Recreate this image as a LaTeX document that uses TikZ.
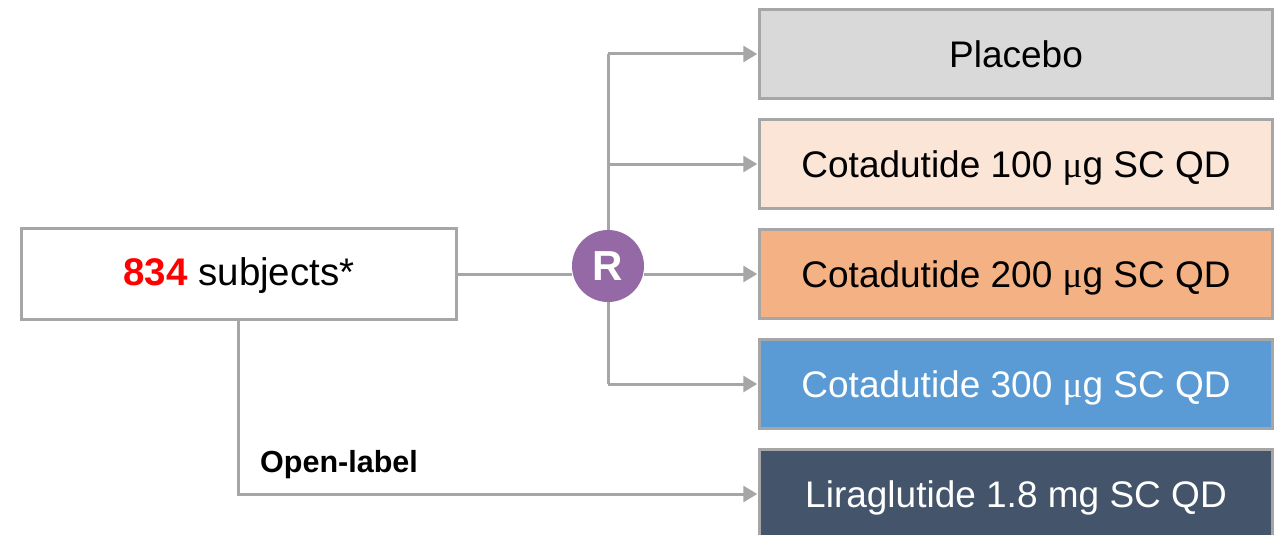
\documentclass[tikz,border=0pt]{standalone}
\usepackage{fontspec}
\setmainfont{Liberation Sans}
\newfontfamily\muserif{Liberation Serif}
\usetikzlibrary{arrows.meta}
\definecolor{lgray}{HTML}{A6A6A6}
\definecolor{cplacebo}{HTML}{D9D9D9}
\definecolor{cone}{HTML}{FBE5D6}
\definecolor{ctwo}{HTML}{F4B183}
\definecolor{cthree}{HTML}{5B9BD5}
\definecolor{clira}{HTML}{44546A}
\definecolor{cpurple}{HTML}{9469A5}
\newcommand{\mug}{{\muserif μ}g}
\tikzset{
  armbox/.style={draw=lgray, line width=2.5pt, minimum width=513pt, minimum height=89pt, inner sep=0pt, text height=26.5pt, text depth=0pt, font=\fontsize{37}{44}\selectfont},
  conn/.style={draw=lgray, line width=3pt},
  arr/.style={conn, -{Triangle[length=14pt,width=16pt]}, shorten >=1pt},
}
\begin{document}
\begin{tikzpicture}[x=1pt,y=-1pt]
\useasboundingbox (0,0) rectangle (1284,535);
\node[armbox, fill=cplacebo] (pl) at (1016,54) {Placebo};
\node[armbox, fill=cone] (c1) at (1016,164) {Cotadutide 100 \mug\ SC QD};
\node[armbox, fill=ctwo] (c2) at (1016,274) {Cotadutide 200 \mug\ SC QD};
\node[armbox, fill=cthree, text=white] (c3) at (1016,384) {Cotadutide 300 \mug\ SC QD};
\node[armbox, fill=clira, text=white] (li) at (1016,494) {Liraglutide 1.8 mg SC QD};
\node[draw=lgray, line width=2.5pt, minimum width=435pt, minimum height=91pt, inner sep=0pt, fill=white, text height=23pt, text depth=0pt, font=\fontsize{38.5}{44}\selectfont] (su) at (239,274) {\textcolor{red}{\textbf{834}} subjects*};
\node[circle, fill=cpurple, minimum size=72pt, inner sep=0pt, text=white, font=\fontsize{42}{48}\selectfont\bfseries] (r) at (608,266) {R};
\coordinate (top) at (608,54);
\coordinate (bot) at (608,384);
\coordinate (ol) at (238,494);
\draw[conn] (top) -- (r.north);
\draw[conn] (r.south) -- (bot);
\draw[conn] (su.east) -- (r.west |- su.east);
\draw[arr] (top) -- (pl.west);
\draw[arr] (608,164) -- (c1.west);
\draw[arr] (r.east |- c2.west) -- (c2.west);
\draw[arr] (bot) -- (c3.west);
\draw[arr] (su.south -| ol) -- (ol) -- (li.west);
\node[anchor=base west, inner sep=0pt, font=\fontsize{30.5}{36}\selectfont\bfseries] (olab) at (260,472) {Open-label};
\end{tikzpicture}
\end{document}
